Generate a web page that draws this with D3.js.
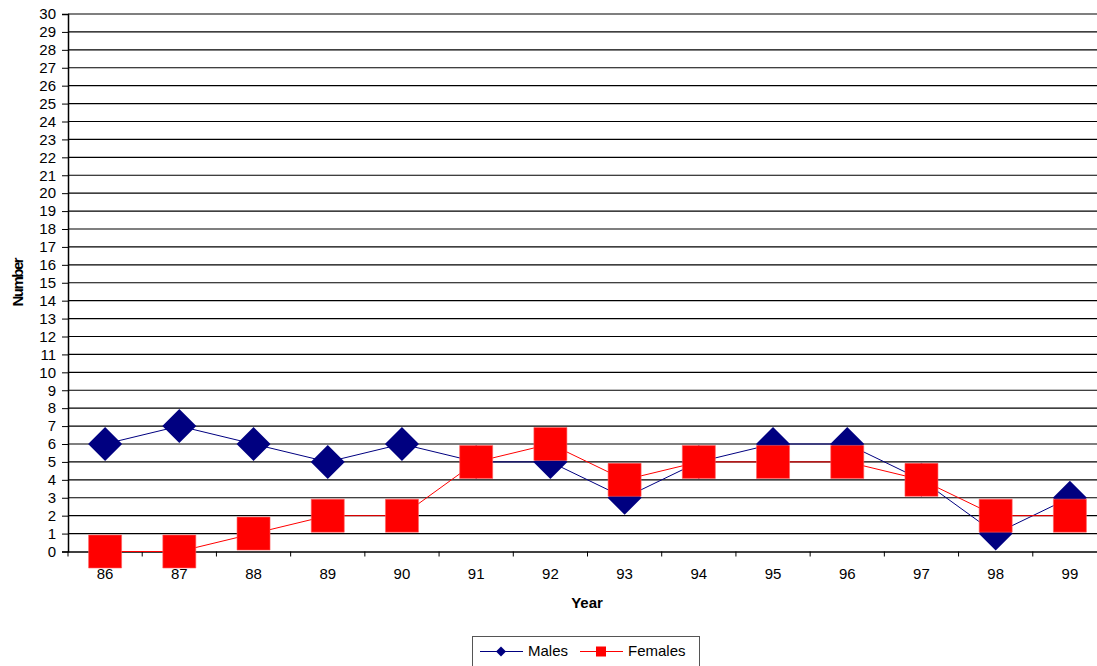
<!DOCTYPE html>
<html>
<head>
<meta charset="utf-8">
<script src="https://cdn.jsdelivr.net/npm/d3@7"></script>
<style>
html,body{margin:0;padding:0;background:#fff;overflow:hidden;}
svg{display:block;font-family:"Liberation Sans",Arial,sans-serif;}
</style>
</head>
<body>
<svg id="chart" width="1097" height="666"></svg>
<script>
const years = ["86","87","88","89","90","91","92","93","94","95","96","97","98","99"];
const males = [6,7,6,5,6,5,5,3,5,6,6,4,1,3];
const females = [0,0,1,2,2,5,6,4,5,5,5,4,2,2];
const yTicks = d3.range(0,31);

const svg = d3.select("#chart");
const pLeft = 68, pRight = 1107, pTop = 14, pBottom = 551.5;
const fs = 15;

const x = d3.scaleBand().domain(years).range([pLeft,pRight]).paddingInner(0).paddingOuter(0);
const y = d3.scaleLinear().domain([0,30]).range([pBottom,pTop]);

// gridlines
svg.append("g").selectAll("line").data(yTicks.filter(d=>d>0)).join("line")
  .attr("x1",pLeft).attr("x2",pRight)
  .attr("y1",d=>y(d)).attr("y2",d=>y(d))
  .attr("stroke","#000").attr("stroke-width",1.1);

// y axis
const yAxis = d3.axisLeft(y).tickValues(yTicks).tickSize(6).tickPadding(6).tickFormat(d3.format("d"));
const gy = svg.append("g").attr("transform",`translate(${pLeft},0)`).call(yAxis);
gy.select(".domain").attr("stroke","#000").attr("stroke-width",1.5);
gy.selectAll(".tick line").attr("stroke","#000");
gy.selectAll("text").attr("font-size",fs).attr("fill","#000").attr("font-family","Liberation Sans, Arial, sans-serif");

// x axis
const xAxis = d3.axisBottom(x).tickSize(0).tickPadding(17);
const gx = svg.append("g").attr("transform",`translate(0,${pBottom})`).call(xAxis);
gx.select(".domain").attr("stroke","#000").attr("stroke-width",1.5);
gx.selectAll("text").attr("font-size",fs).attr("fill","#000").attr("font-family","Liberation Sans, Arial, sans-serif");
// ticks between categories
const bounds = years.map(d=>x(d));
svg.append("g").selectAll("line").data(bounds).join("line")
  .attr("x1",d=>d).attr("x2",d=>d).attr("y1",pBottom).attr("y2",pBottom+5)
  .attr("stroke","#000");

// axis titles
svg.append("text").attr("x",587).attr("y",608).attr("text-anchor","middle")
  .attr("font-size",fs).attr("font-weight","bold").text("Year");
svg.append("text").attr("transform",`translate(23,${(pTop+pBottom)/2}) rotate(-90)`)
  .attr("text-anchor","middle").attr("font-size",fs).attr("font-weight","bold").attr("letter-spacing","-1.5").text("Number");

const cx = d => x(d) + x.bandwidth()/2;
const line = d3.line().x((d,i)=>cx(years[i])).y(d=>y(d));

const diamond = s => `M0,${-s}L${s},0L0,${s}L${-s},0Z`;
const square = s => `M${-s},${-s}H${s}V${s}H${-s}Z`;

// Males
svg.append("path").datum(males).attr("d",line).attr("fill","none").attr("stroke","#000080").attr("stroke-width",1);
svg.append("g").selectAll("path").data(males).join("path")
  .attr("transform",(d,i)=>`translate(${cx(years[i])},${y(d)})`)
  .attr("d",diamond(17)).attr("fill","#000080");

// Females
svg.append("path").datum(females).attr("d",line).attr("fill","none").attr("stroke","#ff0000").attr("stroke-width",1);
svg.append("g").selectAll("path").data(females).join("path")
  .attr("transform",(d,i)=>`translate(${cx(years[i])},${y(d)})`)
  .attr("d",square(16.5)).attr("fill","#ff0000").attr("stroke","#ff6060").attr("stroke-width",0.6);

// Legend
const lg = svg.append("g");
lg.append("rect").attr("x",472.5).attr("y",636.5).attr("width",227).attr("height",40)
  .attr("fill","#fff").attr("stroke","#555").attr("stroke-width",1);
const ly = 651.5;
lg.append("line").attr("x1",480).attr("x2",523).attr("y1",ly).attr("y2",ly).attr("stroke","#000080");
lg.append("path").attr("transform",`translate(501,${ly})`).attr("d",diamond(5)).attr("fill","#000080");
lg.append("text").attr("x",528).attr("y",ly+4).attr("font-size",fs).text("Males");
lg.append("line").attr("x1",580).attr("x2",623).attr("y1",ly).attr("y2",ly).attr("stroke","#ff0000");
lg.append("path").attr("transform",`translate(601,${ly})`).attr("d",square(5)).attr("fill","#ff0000");
lg.append("text").attr("x",628).attr("y",ly+4).attr("font-size",fs).text("Females");
</script>
</body>
</html>
